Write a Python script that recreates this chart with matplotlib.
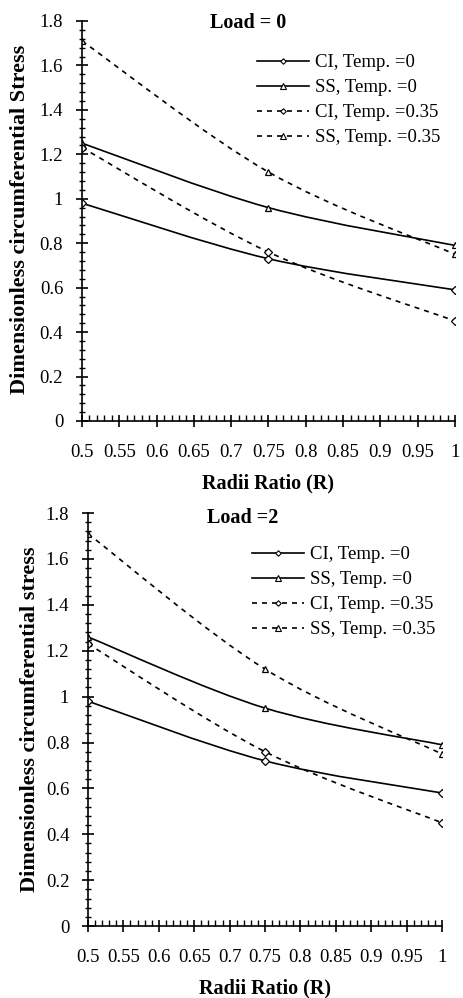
import numpy as np
import matplotlib
matplotlib.use("Agg")
import matplotlib.pyplot as plt
from matplotlib.path import Path
from matplotlib.patches import PathPatch
from matplotlib.lines import Line2D
from matplotlib.ticker import MultipleLocator, FormatStrFormatter

plt.rcParams['font.family'] = ['Liberation Serif', 'DejaVu Serif']

# radii ratio values
radii = [0.5, 0.75, 1.0]

# Load = 0
ci_t0_load0 = [0.98, 0.73, 0.59]
ss_t0_load0 = [1.25, 0.96, 0.79]
ci_t35_load0 = [1.23, 0.76, 0.45]
ss_t35_load0 = [1.71, 1.12, 0.75]

# Load = 2
ci_t0_load2 = [0.98, 0.72, 0.58]
ss_t0_load2 = [1.26, 0.95, 0.79]
ci_t35_load2 = [1.23, 0.76, 0.45]
ss_t35_load2 = [1.71, 1.12, 0.75]

labels = ["CI, Temp. =0", "SS, Temp. =0", "CI, Temp. =0.35", "SS, Temp. =0.35"]


def smooth_path(x, y):
    # excel style smoothed line: cubic bezier through the points
    x = np.asarray(x, float)
    y = np.asarray(y, float)
    verts = [(x[0], y[0])]
    codes = [Path.MOVETO]
    n = len(x)
    for i in range(n - 1):
        i0 = max(i - 1, 0)
        i3 = min(i + 2, n - 1)
        c1 = (x[i] + (x[i + 1] - x[i0]) / 6, y[i] + (y[i + 1] - y[i0]) / 6)
        c2 = (x[i + 1] - (x[i3] - x[i]) / 6, y[i + 1] - (y[i3] - y[i]) / 6)
        verts += [c1, c2, (x[i + 1], y[i + 1])]
        codes += [Path.CURVE4] * 3
    return Path(verts, codes)


def draw_panel(ax, series, title, ylabel, title_xy, leg_xy, ylab_xy):
    styles = [('-', 'D', 3.8), ('-', '^', 4.8), ((0, (3, 3)), 'D', 3.8), ((0, (3, 3)), '^', 4.8)]
    handles = []
    for vals, (ls, mk, ms), lab in zip(series, styles, labels):
        patch = PathPatch(smooth_path(radii, vals), facecolor='none', edgecolor='black',
                          linewidth=1.2, linestyle=ls)
        ax.add_patch(patch)
        ax.plot(radii, vals, linestyle='none', marker=mk, markersize=ms,
                markerfacecolor='white', markeredgecolor='black', markeredgewidth=0.9)
        handles.append(Line2D([], [], color='black', linewidth=1.2, linestyle=ls, marker=mk,
                              markersize=ms - 1, markerfacecolor='white',
                              markeredgecolor='black', markeredgewidth=0.8))
    ax.set_xlim(0.5, 1.0)
    ax.set_ylim(0, 1.8)
    ax.xaxis.set_major_locator(MultipleLocator(0.05))
    ax.xaxis.set_minor_locator(MultipleLocator(0.01))
    ax.yaxis.set_major_locator(MultipleLocator(0.2))
    ax.yaxis.set_minor_locator(MultipleLocator(0.04))
    ax.xaxis.set_major_formatter(FormatStrFormatter('%g'))
    ax.yaxis.set_major_formatter(FormatStrFormatter('%g'))
    ax.spines['top'].set_visible(False)
    ax.spines['right'].set_visible(False)
    ax.spines['left'].set_linewidth(1.2)
    ax.spines['bottom'].set_linewidth(1.2)
    ax.tick_params(axis='both', which='major', direction='inout', length=9, width=1.2,
                   labelsize=13.5, pad=9)
    ax.tick_params(axis='x', which='minor', direction='in', length=4, width=1)
    ax.tick_params(axis='y', which='minor', direction='inout', length=5, width=1)
    ax.tick_params(axis='x', which='major', pad=12)
    ax.set_xlabel("Radii Ratio (R)", fontsize=14.5, fontweight='bold', labelpad=9)
    ax.set_ylabel(ylabel, fontsize=16, fontweight='bold')
    ax.yaxis.set_label_coords(*ylab_xy)
    ax.text(title_xy[0], title_xy[1], title, transform=ax.transAxes, ha='center', va='center',
            fontsize=14.5, fontweight='bold')
    ax.legend(handles, labels, loc='upper left', bbox_to_anchor=leg_xy, frameon=False,
              fontsize=13.5, handlelength=2.8, handletextpad=0.28, labelspacing=0.42,
              borderpad=0, borderaxespad=0)


fig = plt.figure(figsize=(4.63, 9.98), dpi=100)
ax1 = fig.add_axes([0.1771, 0.5782, 0.8056, 0.4008])
ax2 = fig.add_axes([0.1901, 0.0721, 0.7646, 0.4138])

draw_panel(ax1, [ci_t0_load0, ss_t0_load0, ci_t35_load0, ss_t35_load0],
           "Load = 0", "Dimensionless circumferential Stress",
           (0.445, 0.995), (0.469, 0.917), (-0.139, 0.505))
draw_panel(ax2, [ci_t0_load2, ss_t0_load2, ci_t35_load2, ss_t35_load2],
           "Load =2", "Dimensionless circumferential stress",
           (0.438, 0.988), (0.463, 0.92), (-0.136, 0.5))

fig.savefig("out.png", dpi=100)
